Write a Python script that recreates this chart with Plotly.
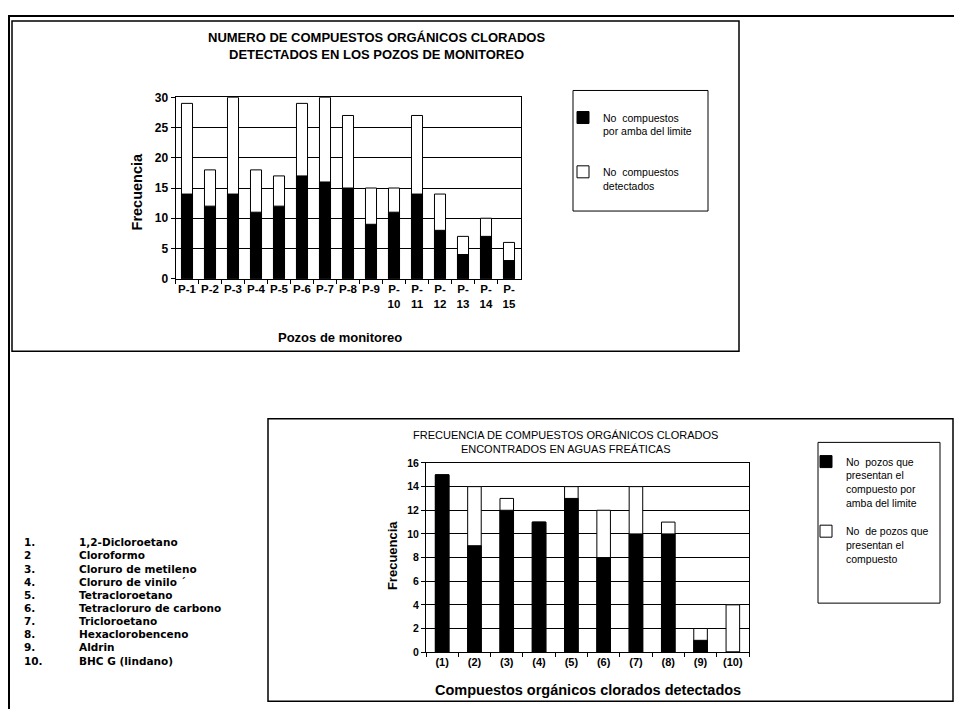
import plotly.graph_objects as go

# --- data ---
pozos = ["P-1", "P-2", "P-3", "P-4", "P-5", "P-6", "P-7", "P-8", "P-9",
         "P-<br>10", "P-<br>11", "P-<br>12", "P-<br>13", "P-<br>14", "P-<br>15"]
pozos_limite = [14, 12, 14, 11, 12, 17, 16, 15, 9, 11, 14, 8, 4, 7, 3]
pozos_detectados = [29, 18, 30, 18, 17, 29, 30, 27, 15, 15, 27, 14, 7, 10, 6]

compuestos = ["(1)", "(2)", "(3)", "(4)", "(5)", "(6)", "(7)", "(8)", "(9)", "(10)"]
comp_limite = [15, 9, 12, 11, 13, 8, 10, 10, 1, 0]
comp_presentes = [15, 14, 13, 11, 14, 12, 14, 11, 2, 4]

lista_num = ["1.", "2", "3.", "4.", "5.", "6.", "7.", "8.", "9.", "10."]
lista_nombres = ["1,2-Dicloroetano", "Cloroformo", "Cloruro de metileno", "Cloruro de vinilo \u00b4",
                 "Tetracloroetano", "Tetracloruro de carbono", "Tricloroetano",
                 "Hexaclorobenceno", "Aldrin", "BHC G (lindano)"]

# the page body keeps its 8px margin, so the figure is shrunk to fit the window
OX, OY = 8, 8
W, H = 946, 708
FONT = "Liberation Sans, Arial, sans-serif"


def px(x):
    return min(1.0, max(0.0, (x - OX) / W))


def py(y):
    return max(0.0, min(1.0, 1 - (y - OY) / H))


fig = go.Figure()

# top chart: white total bar behind, black bar in front
fig.add_trace(go.Bar(x=pozos, y=pozos_detectados, name="No  compuestos<br>detectados",
                     marker=dict(color="white", line=dict(color="black", width=1)),
                     width=0.48, xaxis="x", yaxis="y", legend="legend", legendrank=2,
                     legendgroup="a2"))
fig.add_trace(go.Bar(x=pozos, y=pozos_limite, name="No  compuestos<br>por amba del limite",
                     marker=dict(color="black", line=dict(color="black", width=1)),
                     width=0.48, xaxis="x", yaxis="y", legend="legend", legendrank=1,
                     legendgroup="a1"))

# bottom chart
fig.add_trace(go.Bar(x=compuestos, y=comp_presentes,
                     name="No  de pozos que<br>presentan el<br>compuesto",
                     marker=dict(color="white", line=dict(color="black", width=1)),
                     width=0.42, xaxis="x2", yaxis="y2", legend="legend2", legendrank=2,
                     legendgroup="b2"))
fig.add_trace(go.Bar(x=compuestos, y=comp_limite,
                     name="No  pozos que<br>presentan el<br>compuesto por<br>amba del limite",
                     marker=dict(color="black", line=dict(color="black", width=1)),
                     width=0.42, xaxis="x2", yaxis="y2", legend="legend2", legendrank=1,
                     legendgroup="b1"))

axis_common = dict(showline=True, linecolor="black", linewidth=1, mirror=True,
                   ticks="outside", ticklen=4, tickcolor="black")

fig.update_layout(
    width=W, height=H,
    margin=dict(l=0, r=0, t=0, b=0),
    paper_bgcolor="white", plot_bgcolor="white",
    barmode="overlay",
    font=dict(family=FONT, color="black"),
    xaxis=dict(domain=[px(175.5), px(520.5)], anchor="y", tickson="boundaries",
               tickangle=0, showgrid=False,
               tickfont=dict(family=FONT, size=11.5, weight="bold"), **axis_common),
    yaxis=dict(domain=[py(277), py(92)], anchor="x", range=[0, 30], dtick=5,
               showgrid=True, gridcolor="black", gridwidth=1,
               tickfont=dict(family=FONT, size=12, weight="bold"), **axis_common),
    xaxis2=dict(domain=[px(426), px(749)], anchor="y2", tickson="boundaries",
                tickangle=0, showgrid=False,
                tickfont=dict(family=FONT, size=11, weight="bold"), **axis_common),
    yaxis2=dict(domain=[py(658), py(465)], anchor="x2", range=[0, 16], dtick=2,
                showgrid=True, gridcolor="black", gridwidth=1,
                tickfont=dict(family=FONT, size=10.5, weight="bold"), **axis_common),
    legend=dict(x=px(563), y=py(99), xanchor="left", yanchor="top",
                borderwidth=0, bgcolor="rgba(0,0,0,0)",
                font=dict(family=FONT, size=10.5), valign="top",
                traceorder="grouped", tracegroupgap=24, itemwidth=30),
    legend2=dict(x=px(806), y=py(450), xanchor="left", yanchor="top",
                 borderwidth=0, bgcolor="rgba(0,0,0,0)",
                 font=dict(family=FONT, size=10.5), valign="top",
                 traceorder="grouped", tracegroupgap=12, itemwidth=30),
)

# frames of the scanned page and the legend boxes
frame = dict(type="line", xref="paper", yref="paper", line=dict(color="black", width=2))
box = dict(type="rect", xref="paper", yref="paper", line=dict(color="black", width=1.5))
shapes = [
    dict(frame, x0=0, x1=1, y0=py(9), y1=py(9)),
    dict(frame, x0=px(9), x1=px(9), y0=py(9), y1=0),
    dict(box, x0=px(12), x1=px(739), y0=py(351), y1=py(14)),
    dict(box, x0=px(268), x1=px(953), y0=py(708), y1=py(420)),
    dict(box, x0=px(573), x1=px(708), y0=py(208), y1=py(85), line=dict(color="black", width=1)),
    dict(box, x0=px(818), x1=px(940), y0=py(608), y1=py(444), line=dict(color="black", width=1)),
]
fig.update_layout(shapes=shapes)

annotations = [
    dict(text="<b>NUMERO DE COMPUESTOS ORGÁNICOS CLORADOS<br>DETECTADOS EN LOS POZOS DE MONITOREO</b>",
         x=px(376), y=py(40), font=dict(size=13)),
    dict(text="<b>Frecuencia</b>", x=px(137), y=py(188), textangle=-90, font=dict(size=14.5)),
    dict(text="<b>Pozos de monitoreo</b>", x=px(340), y=py(337), font=dict(size=13)),
    dict(text="FRECUENCIA DE COMPUESTOS ORGÁNICOS CLORADOS<br>ENCONTRADOS EN AGUAS FREÁTICAS",
         x=px(565), y=py(444), font=dict(size=11)),
    dict(text="<b>Frecuencia</b>", x=px(392), y=py(560), textangle=-90, font=dict(size=13)),
    dict(text="<b>Compuestos orgánicos clorados detectados</b>", x=px(588), y=py(697),
         font=dict(size=14.5)),
]
for i, (num, nombre) in enumerate(zip(lista_num, lista_nombres)):
    yy = py(546 + i * 13.4)
    annotations.append(dict(text="<b>%s</b>" % num, x=px(22), y=yy, xanchor="left",
                            font=dict(family="DejaVu Sans", size=10.5)))
    annotations.append(dict(text="<b>%s</b>" % nombre, x=px(77), y=yy, xanchor="left",
                            font=dict(family="DejaVu Sans", size=10.5)))

for a in annotations:
    a.setdefault("xref", "paper")
    a.setdefault("yref", "paper")
    a.setdefault("showarrow", False)
    a.setdefault("xanchor", "center")
    a.setdefault("yanchor", "middle")
fig.update_layout(annotations=annotations)

fig.write_html("out.html")
